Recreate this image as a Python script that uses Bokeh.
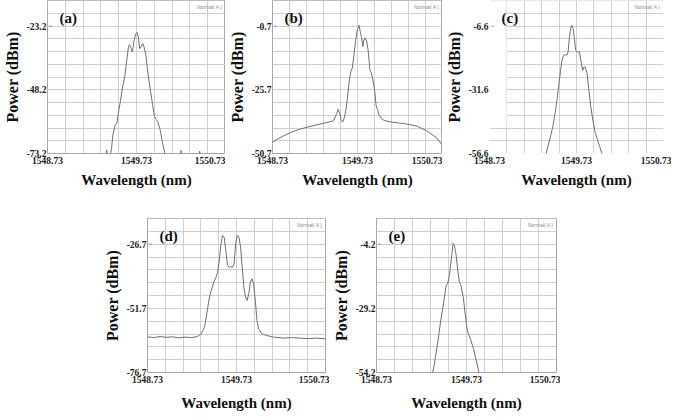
from bokeh.plotting import figure
from bokeh.layouts import column, row
from bokeh.models import FixedTicker, PrintfTickFormatter, Label, Range1d, Spacer
from bokeh.embed import file_html
from bokeh.resources import INLINE

# ---------------- data ----------------
x_ticks = [1548.73, 1549.73, 1550.73]
x_start = 1548.73
x_end = 1550.73
grid_step_nm = 0.2
grid_step_db = 5.0

# (a)
a_ref = -23.2
a_wl = [1548.73, 1549.38, 1549.395, 1549.41, 1549.43, 1549.45, 1549.465, 1549.49, 1549.51, 1549.53,
        1549.55, 1549.57, 1549.60, 1549.62, 1549.64, 1549.65, 1549.67, 1549.685, 1549.70, 1549.72,
        1549.735, 1549.75, 1549.765, 1549.78, 1549.80, 1549.815, 1549.835, 1549.85, 1549.87, 1549.89,
        1549.91, 1549.93, 1549.95, 1549.97, 1549.995, 1550.02, 1550.04, 1550.06, 1550.22, 1550.23,
        1550.24, 1550.43, 1550.44, 1550.45, 1550.73]
a_pw = [-76, -76, -71.8, -76, -75.0, -71.1, -65.8, -62.1, -61.2, -56.5,
        -52.6, -47.9, -42.6, -36.7, -31.4, -30.5, -32.1, -33.4, -29.4, -26.4,
        -25.7, -27.4, -32.1, -31.4, -30.1, -31.4, -34.7, -39.3, -44.6, -49.3,
        -53.9, -58.5, -59.8, -60.8, -63.8, -68.4, -71.8, -75.0, -76, -72.0,
        -76, -76, -72.3, -76, -76]

# (b)
b_ref = -0.7
b_wl = [1548.73, 1548.834, 1548.946, 1549.057, 1549.206, 1549.354, 1549.447, 1549.485, 1549.503, 1549.522,
        1549.540, 1549.559, 1549.577, 1549.596, 1549.615, 1549.633, 1549.652, 1549.670, 1549.689, 1549.708,
        1549.726, 1549.748, 1549.763, 1549.777, 1549.793, 1549.804, 1549.819, 1549.838, 1549.856, 1549.875,
        1549.893, 1549.912, 1549.931, 1549.949, 1549.968, 1549.986, 1550.024, 1550.061, 1550.135, 1550.321,
        1550.432, 1550.544, 1550.655, 1550.730]
b_pw = [-46.2, -44.2, -42.4, -41.1, -39.8, -38.7, -37.9, -35.1, -33.4, -35.1,
        -37.9, -38.2, -36.4, -33.1, -27.8, -22.4, -18.4, -17.1, -11.8, -6.4,
        -2.4, -0.4, -3.1, -5.1, -8.8, -6.2, -5.4, -6.7, -10.4, -17.8,
        -19.1, -21.8, -25.8, -31.8, -33.8, -35.8, -37.4, -37.9, -38.4, -39.2,
        -40.0, -41.8, -44.4, -47.5]

# (c)  (first grid column of this screen is blanked in the original, except its lowest rows)
c_ref = -6.6
c_blank_to = 1548.93
c_wl = [1548.73, 1549.35, 1549.376, 1549.406, 1549.435, 1549.461, 1549.486, 1549.508, 1549.526, 1549.545,
        1549.563, 1549.581, 1549.600, 1549.618, 1549.633, 1549.647, 1549.662, 1549.676, 1549.691, 1549.706,
        1549.720, 1549.742, 1549.764, 1549.786, 1549.801, 1549.815, 1549.830, 1549.852, 1549.870, 1549.892,
        1549.918, 1549.947, 1549.973, 1549.998, 1550.028, 1550.05, 1550.73]
c_pw = [-60, -60, -57.2, -53.3, -49.4, -45.5, -40.3, -35.0, -29.8, -24.6,
        -20.0, -18.1, -17.8, -18.1, -16.8, -11.6, -7.6, -6.3, -7.6, -11.6,
        -16.1, -16.8, -16.8, -21.3, -24.0, -22.7, -22.7, -25.3, -31.1, -37.7,
        -43.5, -48.7, -51.4, -54.0, -57.2, -60, -60]

# (d)
d_ref = -26.7
d_wl = [1548.73, 1548.80, 1548.87, 1548.94, 1549.01, 1549.08, 1549.15, 1549.22, 1549.29, 1549.334,
        1549.371, 1549.390, 1549.408, 1549.426, 1549.452, 1549.474, 1549.500, 1549.518, 1549.537, 1549.555,
        1549.573, 1549.592, 1549.610, 1549.629, 1549.647, 1549.666, 1549.684, 1549.702, 1549.721, 1549.739,
        1549.758, 1549.776, 1549.794, 1549.813, 1549.831, 1549.849, 1549.868, 1549.886, 1549.904, 1549.923,
        1549.941, 1549.960, 1549.978, 1550.015, 1550.070, 1550.144, 1550.255, 1550.35, 1550.439, 1550.53,
        1550.623, 1550.73]
d_pw = [-62.8, -63.1, -62.7, -63.0, -62.8, -63.2, -62.9, -63.1, -62.7, -61.6,
        -59.0, -55.1, -51.2, -47.3, -44.1, -41.5, -39.6, -37.6, -33.1, -26.6,
        -23.3, -24.0, -29.2, -35.0, -35.7, -35.4, -35.7, -34.4, -26.6, -23.3,
        -24.0, -27.9, -35.7, -43.5, -47.3, -48.6, -46.0, -41.5, -40.2, -42.2,
        -48.6, -56.4, -59.7, -61.6, -62.3, -62.9, -63.3, -63.1, -63.3, -63.5,
        -63.3, -63.6]

# (e)
e_ref = -4.2
e_wl = [1548.73, 1549.30, 1549.348, 1549.370, 1549.388, 1549.406, 1549.425, 1549.443, 1549.461, 1549.479,
        1549.505, 1549.523, 1549.541, 1549.567, 1549.581, 1549.596, 1549.614, 1549.632, 1549.650, 1549.668,
        1549.694, 1549.716, 1549.734, 1549.752, 1549.777, 1549.807, 1549.843, 1549.876, 1549.92, 1550.73]
e_pw = [-58, -58, -55.3, -51.5, -47.5, -43.5, -38.9, -34.2, -30.2, -26.2,
        -20.2, -19.3, -16.2, -8.2, -3.9, -4.9, -8.2, -14.2, -18.9, -20.2,
        -24.9, -31.5, -36.9, -39.3, -41.5, -44.9, -50.2, -55.3, -58, -58]

# ---------------- styling ----------------
SERIF = "Liberation Serif"
LINE = "#707070"
GRID = "#cfcfcf"


def make_panel(wl, pw, ref, letter, fw, fh, bl, br, bt, bb, xlabel_standoff, blank_to=None):
    y_lo, y_hi = ref - 50.0, ref + 10.0
    p = figure(width=bl + fw + br, height=bt + fh + bb,
               x_range=Range1d(x_start, x_end), y_range=Range1d(y_lo, y_hi),
               output_backend="svg", toolbar_location=None,
               min_border_left=bl, min_border_right=br, min_border_top=bt, min_border_bottom=bb,
               x_axis_label="Wavelength (nm)", y_axis_label="Power (dBm)")
    p.background_fill_color = "white"
    p.border_fill_color = "white"
    p.outline_line_color = "#a8a8a8" if blank_to is None else None
    p.outline_line_width = 1

    nx = int(round((x_end - x_start) / grid_step_nm))
    p.xgrid.ticker = FixedTicker(ticks=[x_start + grid_step_nm * i for i in range(nx + 1)])
    p.ygrid.ticker = FixedTicker(ticks=[y_lo + grid_step_db * i for i in range(13)])
    for g in (p.xgrid, p.ygrid):
        g.grid_line_color = GRID
        g.grid_line_width = 1

    p.xaxis.ticker = FixedTicker(ticks=x_ticks)
    p.xaxis.formatter = PrintfTickFormatter(format="%.2f")
    p.yaxis.ticker = FixedTicker(ticks=[ref - 50, ref - 25, ref])
    p.yaxis.formatter = PrintfTickFormatter(format="%.1f")
    for ax in (p.xaxis, p.yaxis):
        ax.axis_line_color = None
        ax.major_tick_line_color = None
        ax.minor_tick_line_color = None
        ax.major_tick_out = 0
        ax.major_tick_in = 0
        ax.major_label_text_font = SERIF
        ax.major_label_text_font_style = "bold"
        ax.major_label_text_font_size = "9.5px"
        ax.major_label_text_color = "#222222"
        ax.axis_label_text_font = SERIF
        ax.axis_label_text_font_style = "bold"
        ax.axis_label_text_color = "#111111"
    p.xaxis.major_label_standoff = 3
    p.xaxis.axis_label_standoff = xlabel_standoff
    p.xaxis.axis_label_text_font_size = "15px"
    p.yaxis.major_label_standoff = 1
    p.yaxis.axis_label_standoff = 3
    p.yaxis.axis_label_text_font_size = "16px"

    if blank_to is not None:
        # the blanked first column of the scanned screen (lowest two rows remain)
        p.quad(left=x_start, right=blank_to - 0.004, bottom=y_lo + 2 * grid_step_db + 0.5, top=y_hi,
               fill_color="white", line_color=None)

    p.line(wl, pw, line_color=LINE, line_width=1)

    p.add_layout(Label(x=x_start, y=ref, text=letter, x_offset=12, y_offset=0,
                       text_font=SERIF, text_font_style="bold", text_font_size="15px",
                       text_color="#111111", text_baseline="bottom", text_align="left"))
    p.add_layout(Label(x=x_start, y=ref, text="=", x_offset=1,
                       text_font=SERIF, text_font_size="7px", text_color="#888888",
                       text_baseline="middle", text_align="left"))
    p.add_layout(Label(x=x_end, y=y_hi, text="Normal( A )", x_offset=-3, y_offset=-3,
                       text_font="Liberation Sans", text_font_size="5px", text_color="#8a8a8a",
                       text_baseline="top", text_align="right"))
    return p


TOP_FH, TOP_BT, TOP_BB = 153, 0, 40
BOT_FH, BOT_BT, BOT_BB = 154, 25, 44

fa = make_panel(a_wl, a_pw, a_ref, "(a)", 181, TOP_FH, 44, 0, TOP_BT, TOP_BB, 5)
fb = make_panel(b_wl, b_pw, b_ref, "(b)", 177, TOP_FH, 40, 0, TOP_BT, TOP_BB, 5)
fc = make_panel(c_wl, c_pw, c_ref, "(c)", 182, TOP_FH, 39, 8, TOP_BT, TOP_BB, 5, blank_to=c_blank_to)
fd = make_panel(d_wl, d_pw, d_ref, "(d)", 181, BOT_FH, 44, 4, BOT_BT, BOT_BB, 9)
fe = make_panel(e_wl, e_pw, e_ref, "(e)", 183, BOT_FH, 44, 4, BOT_BT, BOT_BB, 9)

layout = column(row(fa, fb, fc), row(Spacer(width=100, height=10), fd, fe))

open("out.html", "w").write(file_html(layout, INLINE))
